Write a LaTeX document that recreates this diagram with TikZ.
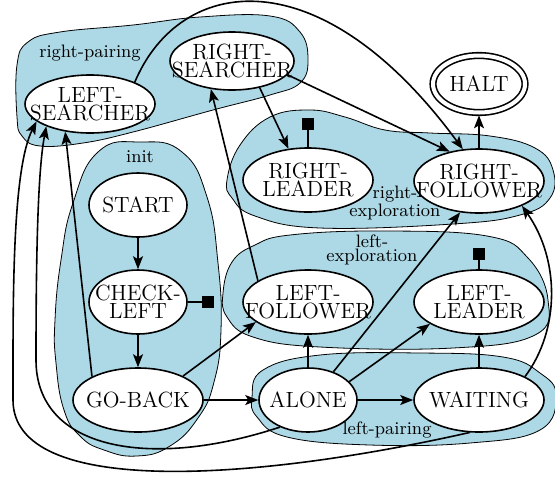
\documentclass[tikz,border=0pt]{standalone}
\usepackage{tikz}
\usetikzlibrary{arrows.meta}
\usetikzlibrary{shapes}
\definecolor{clusterblue}{HTML}{ADD8E6}
\newcommand{\statefont}{\fontsize{11}{9}\selectfont}
\newcommand{\clusterfont}{\fontsize{9}{7}\selectfont}
\tikzset{
    state/.style={ellipse, draw=black, fill=white, line width=0.8pt, font=\statefont,
        align=center, inner xsep=-20pt, inner ysep=-8pt},
    longstate/.style={state, minimum width=65pt, minimum height=32pt},
    shortstate/.style={state, minimum width=49pt, minimum height=32pt},
    cluster/.style={draw=black, fill=clusterblue, line width=0.4pt},
    clusterlabel/.style={font=\clusterfont, align=center, inner sep=0pt},
    trans/.style={draw=black, ->},
    stopline/.style={draw=black},
    stopbox/.style={draw=black, fill=black, minimum size=5pt, inner sep=0pt},
}
\tikzset{>={Stealth[length=6.5pt,width=5pt,inset=1.5pt]}}

\begin{document}
\begin{tikzpicture}[x=0.5pt, y=-0.5pt, line width=0.8pt]
\useasboundingbox (0,0) rectangle (555,483);

%CLUSTERS
\draw[cluster] plot[smooth cycle, tension=0.7] coordinates {(17,117) (17,65) (28,42) (60,32)
    (133,25) (200,17) (270,16) (300,32) (308,60) (300,83) (270,95) (213,110) (133,132)
    (83,143) (40,146) (22,136)};
	\node[clusterlabel] (lblrightpairing) at (90,53) {right-pairing};
\draw[cluster] plot[smooth cycle, tension=0.8] coordinates {(140,142) (182,152) (207,197)
    (218,263) (221,330) (214,382) (198,418) (170,446) (137,456) (104,450) (80,436) (64,410)
    (56,363) (55,320) (61,260) (73,203) (98,152)};
	\node[clusterlabel] (lblinit) at (140,157) {init};
\draw[cluster] plot[smooth cycle, tension=0.7] coordinates {(227,180) (240,145) (270,117)
    (310,110) (345,117) (385,130) (430,133) (490,136) (535,148) (553,170) (550,198) (520,215)
    (453,224) (320,228) (255,216) (232,198)};
	\node[clusterlabel] (lblrightexpl) at (395,203) {right-\\exploration};
\draw[cluster] plot[smooth cycle, tension=0.7] coordinates {(223,293) (232,262) (255,245)
    (290,235) (380,231) (487,236) (528,258) (548,300) (535,335) (453,348) (320,347) (253,337)
    (227,317)};
	\node[clusterlabel] (lblleftexpl) at (372,250) {left-\\exploration};
\draw[cluster] plot[smooth cycle, tension=0.7] coordinates {(252,397) (263,370) (320,355)
    (420,353) (503,357) (540,373) (556,395) (540,430) (470,443) (370,445) (287,437) (257,417)};
	\node[clusterlabel] (lblleftpairing) at (387,430) {left-pairing};

%STATES
\node[longstate, minimum height=29pt] (leftsearcher) at (90,104) {LEFT-\\SEARCHER};
\node[longstate, minimum width=62pt, minimum height=29pt] (rightsearcher) at (232,61) {RIGHT-\\SEARCHER};
\node[state, double, double distance=2pt, outer sep=1.4pt, minimum width=46pt,
    minimum height=28.5pt] (halt) at (479,84) {HALT};
\node[longstate] (rightleader) at (308,180) {RIGHT-\\LEADER};
\node[longstate] (rightfollower) at (479,181) {RIGHT-\\FOLLOWER};
\node[shortstate] (start) at (138,205) {START};
\node[shortstate] (checkleft) at (138,302) {CHECK-\\LEFT};
\node[longstate] (goback) at (138,400) {GO-BACK};
\node[longstate] (leftfollower) at (308,302) {LEFT-\\FOLLOWER};
\node[longstate] (leftleader) at (479,302) {LEFT-\\LEADER};
\node[shortstate] (alone) at (308,400) {ALONE};
\node[longstate] (waiting) at (479,400) {WAITING};
\node[stopbox] (sqcheckleft) at (208,302) {};
\node[stopbox] (sqrightleader) at (308,124) {};
\node[stopbox] (sqleftleader) at (479,254) {};

%INIT
\draw[trans] (start) -- (checkleft);
\draw[stopline] (checkleft) -- (sqcheckleft);
\draw[trans] (checkleft) -- (goback);
\draw[trans] (goback.28) -- (leftfollower.201);
\draw[trans] (goback) -- (alone);
\draw[trans] (goback.153) -- (leftsearcher.228);

%RIGHT SIDE
\draw[trans] (leftsearcher.26) .. controls (180,-25) and (320,-45) .. (rightfollower.117);
\draw[trans] (rightsearcher.-44) -- (rightleader.122);
\draw[trans] (rightsearcher.-14) -- (rightfollower.135);
\draw[stopline] (rightleader) -- (sqrightleader);
\draw[trans] (rightfollower) -- (halt);
\draw[trans] (leftfollower.157) -- (rightsearcher.233);
\draw[stopline] (leftleader) -- (sqleftleader);

%LEFT PAIRING
\draw[trans] (alone) -- (leftfollower);
\draw[trans] (alone.48) -- (rightfollower.239);
\draw[trans] (alone.24) -- (leftleader.204);
\draw[trans] (alone) -- (waiting);
\draw[trans] (waiting) -- (leftleader);
\draw[trans] (waiting.27) .. controls (560,330) and (560,260) .. (rightfollower.-30);

%BACK TO LEFT-SEARCHER
\draw[trans] (alone.224) .. controls (150,470) and (36,450) .. (36,360)
    .. controls (36,250) and (38,170) .. (leftsearcher.207);
\draw[trans] (waiting.254) .. controls (250,482) and (13,497) .. (13,400)
    .. controls (13,300) and (12,170) .. (leftsearcher.198);
\end{tikzpicture}
\end{document}
